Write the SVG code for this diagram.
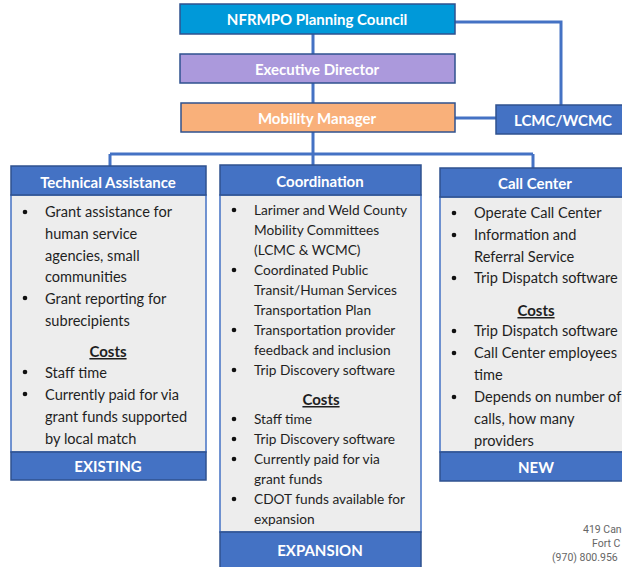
<svg xmlns="http://www.w3.org/2000/svg" width="622" height="567" viewBox="0 0 622 567">
<style>
.hd{font-family:Lato,"Open Sans","Liberation Sans",sans-serif;font-weight:bold;fill:#fff;text-anchor:middle}
.b{font-family:Lato,"Liberation Sans",sans-serif;fill:#1f1f1f;font-size:14.6px}
.bs{font-family:Lato,"Liberation Sans",sans-serif;fill:#1f1f1f;font-size:13.7px}
.cost{font-family:Lato,"Liberation Sans",sans-serif;font-weight:bold;fill:#1f1f1f;text-anchor:middle;text-decoration:underline;font-size:15px}
.dot{fill:#111}
.hbox{fill:#4472C4;stroke:#2F528F;stroke-width:1.5}
.body{fill:#EDEDED;stroke:#4472C4;stroke-width:1.5}
.ln{stroke:#4472C4;stroke-width:3;fill:none}
.addr{font-family:Roboto,"Liberation Sans",sans-serif;font-size:10.5px;fill:#666}
</style>
<rect width="622" height="567" fill="#fff"/>
<g id="connectors">
<path class="ln" d="M313 34V54M313 83V103M313 132V154M110 154H533M110 154V166M313 154V165M533 154V168"/>
<path class="ln" d="M455 22H561V105"/>
<path class="ln" d="M455 118H496"/>
</g>
<g id="council">
<rect x="180" y="4" width="275" height="30" fill="#0099D9" stroke="#2F528F" stroke-width="1.5"/>
<text class="hd" x="317" y="25" font-size="15">NFRMPO Planning Council</text>
</g>
<g id="director">
<rect x="180" y="54" width="275" height="29" fill="#AB99DC" stroke="#2F528F" stroke-width="1.5"/>
<text class="hd" x="317" y="75" font-size="15">Executive Director</text>
</g>
<g id="mobility">
<rect x="181" y="103" width="274" height="29" fill="#F9B07A" stroke="#2F528F" stroke-width="1.5"/>
<text class="hd" x="317" y="124" font-size="15">Mobility Manager</text>
</g>
<g id="lcmc">
<rect x="496" y="105" width="130" height="29" class="hbox"/>
<text class="hd" x="563" y="126" font-size="15">LCMC/WCMC</text>
</g>
<g id="technical">
<rect x="11" y="195" width="195" height="257" class="body"/>
<rect x="11" y="166" width="195" height="29" class="hbox"/>
<text class="hd" x="108" y="188" font-size="15">Technical Assistance</text>
<g class="b">
<circle class="dot" cx="25" cy="212" r="2.3"/>
<text x="45" y="217">Grant assistance for</text>
<text x="45" y="239">human service</text>
<text x="45" y="261">agencies, small</text>
<text x="45" y="282">communities</text>
<circle class="dot" cx="25" cy="298" r="2.3"/>
<text x="45" y="304">Grant reporting for</text>
<text x="45" y="326">subrecipients</text>
<text class="cost" x="108" y="357">Costs</text>
<circle class="dot" cx="25" cy="372" r="2.3"/>
<text x="45" y="378">Staff time</text>
<circle class="dot" cx="25" cy="394" r="2.3"/>
<text x="45" y="400">Currently paid for via</text>
<text x="45" y="422">grant funds supported</text>
<text x="45" y="444">by local match</text>
</g>
<rect x="11" y="452" width="195" height="28" class="hbox"/>
<text class="hd" x="108" y="472" font-size="15">EXISTING</text>
</g>
<g id="coordination">
<rect x="220" y="195" width="201" height="337" class="body"/>
<rect x="220" y="165" width="201" height="30" class="hbox"/>
<text class="hd" x="320" y="187" font-size="15">Coordination</text>
<g class="bs">
<circle class="dot" cx="234" cy="210" r="2.3"/>
<text x="254" y="215">Larimer and Weld County</text>
<text x="254" y="235">Mobility Committees</text>
<text x="254" y="255">(LCMC &amp; WCMC)</text>
<circle class="dot" cx="234" cy="270" r="2.3"/>
<text x="254" y="275">Coordinated Public</text>
<text x="254" y="295">Transit/Human Services</text>
<text x="254" y="315">Transportation Plan</text>
<circle class="dot" cx="234" cy="330" r="2.3"/>
<text x="254" y="335">Transportation provider</text>
<text x="254" y="355">feedback and inclusion</text>
<circle class="dot" cx="234" cy="370" r="2.3"/>
<text x="254" y="375">Trip Discovery software</text>
<text class="cost" x="321" y="405" font-size="14">Costs</text>
<circle class="dot" cx="234" cy="419" r="2.3"/>
<text x="254" y="424">Staff time</text>
<circle class="dot" cx="234" cy="439" r="2.3"/>
<text x="254" y="444">Trip Discovery software</text>
<circle class="dot" cx="234" cy="459" r="2.3"/>
<text x="254" y="464">Currently paid for via</text>
<text x="254" y="484">grant funds</text>
<circle class="dot" cx="234" cy="499" r="2.3"/>
<text x="254" y="504">CDOT funds available for</text>
<text x="254" y="524">expansion</text>
</g>
<rect x="220" y="532" width="201" height="38" class="hbox"/>
<text class="hd" x="320" y="556" font-size="15">EXPANSION</text>
</g>
<g id="callcenter">
<rect x="440" y="197" width="186" height="255" class="body"/>
<rect x="440" y="168" width="186" height="29" class="hbox"/>
<text class="hd" x="535" y="189" font-size="15">Call Center</text>
<g class="b">
<circle class="dot" cx="454" cy="213" r="2.3"/>
<text x="474" y="218">Operate Call Center</text>
<circle class="dot" cx="454" cy="235" r="2.3"/>
<text x="474" y="240">Information and</text>
<text x="474" y="262">Referral Service</text>
<circle class="dot" cx="454" cy="278" r="2.3"/>
<text x="474" y="283">Trip Dispatch software</text>
<text class="cost" x="536" y="316">Costs</text>
<circle class="dot" cx="454" cy="331" r="2.3"/>
<text x="474" y="336">Trip Dispatch software</text>
<circle class="dot" cx="454" cy="353" r="2.3"/>
<text x="474" y="358">Call Center employees</text>
<text x="474" y="380">time</text>
<circle class="dot" cx="454" cy="397" r="2.3"/>
<text x="474" y="402">Depends on number of</text>
<text x="474" y="424">calls, how many</text>
<text x="474" y="446">providers</text>
</g>
<rect x="440" y="452" width="186" height="29" class="hbox"/>
<text class="hd" x="536" y="473" font-size="15">NEW</text>
</g>
<g id="address">
<text class="addr" x="583" y="533">419 Can</text>
<text class="addr" x="592" y="547">Fort C</text>
<text class="addr" x="552" y="561">(970) 800.956</text>
</g>
</svg>
